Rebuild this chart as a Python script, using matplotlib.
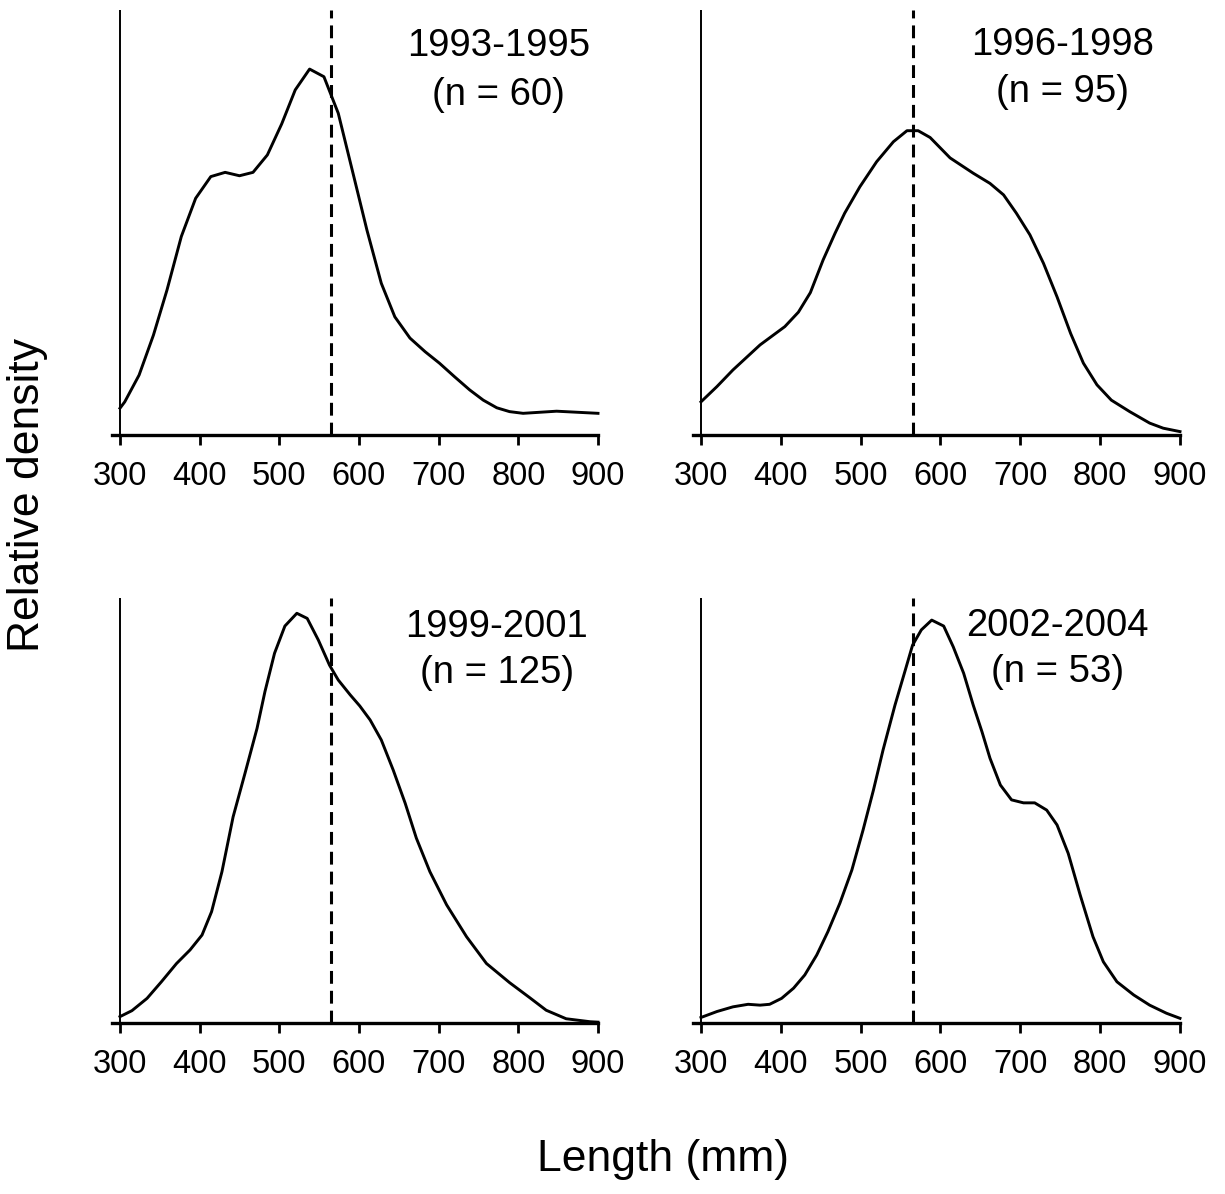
import matplotlib
matplotlib.use("Agg")
import matplotlib.pyplot as plt

plt.rcParams['font.family'] = ['Liberation Sans', 'DejaVu Sans']

# ---- data (length in mm, relative density) ----
len_1993 = [300, 306, 324, 342, 359, 377, 395, 414, 432, 450, 467, 485, 503, 520, 538, 556,
            574, 593, 610, 628, 645, 664, 683, 701, 720, 739, 756, 773, 789, 806, 848, 900]
den_1993 = [0.063, 0.078, 0.141, 0.235, 0.341, 0.467, 0.557, 0.608, 0.618, 0.610, 0.618, 0.659,
            0.732, 0.812, 0.861, 0.843, 0.757, 0.612, 0.482, 0.357, 0.278, 0.228, 0.196, 0.169,
            0.137, 0.106, 0.082, 0.064, 0.055, 0.051, 0.056, 0.051]

len_1996 = [300, 320, 340, 374, 405, 422, 437, 453, 468, 480, 499, 520, 541, 558, 572, 587,
            612, 641, 662, 679, 695, 712, 729, 746, 763, 779, 796, 814, 837, 862, 879, 900]
den_1996 = [0.078, 0.114, 0.153, 0.212, 0.255, 0.289, 0.335, 0.412, 0.475, 0.522, 0.584, 0.643,
            0.690, 0.716, 0.716, 0.700, 0.652, 0.616, 0.592, 0.565, 0.522, 0.471, 0.404, 0.325,
            0.239, 0.169, 0.118, 0.082, 0.055, 0.028, 0.016, 0.008]

len_1999 = [300, 315, 334, 352, 371, 388, 403, 415, 428, 442, 457, 472, 482, 494, 507, 522,
            535, 549, 563, 574, 589, 601, 614, 628, 643, 658, 672, 689, 710, 735, 760, 789,
            814, 835, 860, 890, 900]
den_1999 = [0.015, 0.029, 0.058, 0.097, 0.140, 0.172, 0.207, 0.262, 0.356, 0.485, 0.588, 0.693,
            0.780, 0.870, 0.934, 0.964, 0.952, 0.901, 0.842, 0.807, 0.772, 0.746, 0.713, 0.666,
            0.595, 0.517, 0.435, 0.356, 0.278, 0.203, 0.140, 0.095, 0.060, 0.030, 0.010, 0.003,
            0.002]

len_2002 = [300, 320, 340, 359, 374, 386, 401, 416, 430, 445, 459, 474, 489, 503, 516, 528,
            543, 556, 565, 576, 589, 604, 616, 629, 641, 652, 662, 675, 689, 704, 718, 733,
            746, 760, 775, 791, 804, 821, 842, 862, 883, 900]
den_2002 = [0.013, 0.027, 0.038, 0.044, 0.042, 0.044, 0.058, 0.082, 0.113, 0.160, 0.215, 0.282,
            0.360, 0.454, 0.548, 0.642, 0.748, 0.831, 0.889, 0.925, 0.948, 0.934, 0.885, 0.823,
            0.748, 0.685, 0.623, 0.560, 0.525, 0.518, 0.518, 0.501, 0.466, 0.399, 0.301, 0.203,
            0.144, 0.097, 0.066, 0.042, 0.023, 0.011]

period_labels = ["1993-1995", "1996-1998", "1999-2001", "2002-2004"]
n_labels = ["(n = 60)", "(n = 95)", "(n = 125)", "(n = 53)"]
reference_length = 565
xticks = [300, 400, 500, 600, 700, 800, 900]

series = [(len_1993, den_1993), (len_1996, den_1996), (len_1999, den_1999), (len_2002, den_2002)]

W, H = 1225, 1194
fig = plt.figure(figsize=(W / 100, H / 100), dpi=100)

# axes boxes in pixels: (left, top, right, bottom)
boxes = [(112, 10, 598, 435), (693, 10, 1180, 435),
         (112, 598, 598, 1023), (693, 598, 1180, 1023)]
text_y = [(0.915, 0.80), (0.918, 0.806), (0.932, 0.824), (0.935, 0.827)]
text_x = [0.796, 0.758, 0.792, 0.749]

for i, (box, (xs, ys)) in enumerate(zip(boxes, series)):
    l, t, r, b = box
    ax = fig.add_axes([l / W, 1 - b / H, (r - l) / W, (b - t) / H])
    ax.set_xlim(290, 900)
    ax.set_ylim(0, 1)
    for s in ['top', 'right', 'left']:
        ax.spines[s].set_visible(False)
    ax.spines['bottom'].set_linewidth(2.4)
    ax.axvline(300, color='black', lw=1.4, zorder=2)
    ax.axvline(reference_length, color='black', lw=2.2, ls=(0, (4.2, 2.3)), zorder=2)
    ax.plot(xs, ys, color='black', lw=2.1, zorder=3, clip_on=False)
    ax.set_xticks(xticks)
    ax.set_yticks([])
    ax.tick_params(axis='x', direction='out', length=7, width=2, pad=12, labelsize=23.5)
    ax.text(text_x[i], text_y[i][0], period_labels[i], transform=ax.transAxes,
            ha='center', va='center', fontsize=27.5)
    ax.text(text_x[i], text_y[i][1], n_labels[i],
            transform=ax.transAxes, ha='center', va='center', fontsize=27.5)

fig.text(28 / W, 1 - 495 / H, "Relative density", rotation=90, ha='center', va='center',
         fontsize=32)
fig.text(663 / W, 1 - 1160 / H, "Length (mm)", ha='center', va='center', fontsize=32)

fig.savefig("out.png", dpi=100)
